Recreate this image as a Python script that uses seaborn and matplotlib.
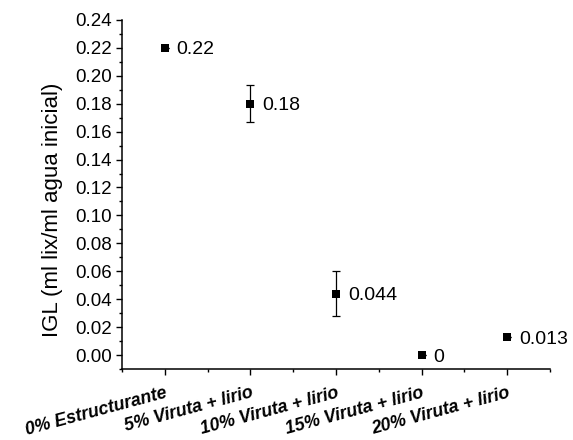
import matplotlib
matplotlib.use("Agg")
import matplotlib.pyplot as plt
from matplotlib.ticker import MultipleLocator, FormatStrFormatter
import pandas as pd
import seaborn as sns

# data
categories = ["0% Estructurante", "5% Viruta + lirio", "10% Viruta + lirio",
              "15% Viruta + lirio", "20% Viruta + lirio"]
igl_values = [0.22, 0.18, 0.044, 0.0, 0.013]
igl_errors = [0.0, 0.013, 0.016, 0.0, 0.0]
value_labels = ["0.22", "0.18", "0.044", "0", "0.013"]

sns.set_theme(style="ticks")
plt.rcParams["font.family"] = ["Liberation Sans", "DejaVu Sans"]

df = pd.DataFrame({"Tratamiento": categories, "IGL": igl_values, "err": igl_errors})

fig = plt.figure(figsize=(5.73, 4.40), dpi=100)
ax = fig.add_axes([0.213, 0.161, 0.747, 0.794])

ax.errorbar(range(len(categories)), df["IGL"], yerr=df["err"], fmt="none",
            ecolor="black", elinewidth=0.9, capsize=3, capthick=0.9, zorder=2)
sns.scatterplot(data=df, x="Tratamiento", y="IGL", marker="s", s=26,
                color="black", edgecolor="black", linewidth=0, ax=ax, zorder=3)

for i, (v, lab) in enumerate(zip(igl_values, value_labels)):
    ax.annotate(lab, (i, v), xytext=(8.5, -1.5), textcoords="offset points",
                ha="left", va="center", fontsize=14, color="black")

ax.set_xlim(-0.5, 4.5)
ax.set_ylim(-0.01, 0.24)
ax.yaxis.set_major_locator(MultipleLocator(0.02))
ax.yaxis.set_minor_locator(MultipleLocator(0.01))
ax.yaxis.set_major_formatter(FormatStrFormatter("%.2f"))
ax.xaxis.set_minor_locator(MultipleLocator(0.5))

sns.despine(ax=ax)
for sp in ["left", "bottom"]:
    ax.spines[sp].set_linewidth(1.1)
    ax.spines[sp].set_color("black")

ax.tick_params(axis="both", which="major", direction="out", length=4,
               width=1.0, color="black", labelsize=13.5, labelcolor="black")
ax.tick_params(axis="both", which="minor", direction="out", length=2.5,
               width=1.0, color="black")
ax.tick_params(axis="x", which="major", pad=7)

ax.set_xticks(range(len(categories)))
ax.set_xticklabels(categories, rotation=15, ha="right", rotation_mode="anchor",
                   fontsize=12.8, fontweight="bold", fontstyle="italic")

ax.set_xlabel("")
ax.set_ylabel("IGL (ml lix/ml agua inicial)", fontsize=16, color="black")
ax.yaxis.set_label_coords(-0.138, 0.456)

fig.savefig("out.png", dpi=100)
